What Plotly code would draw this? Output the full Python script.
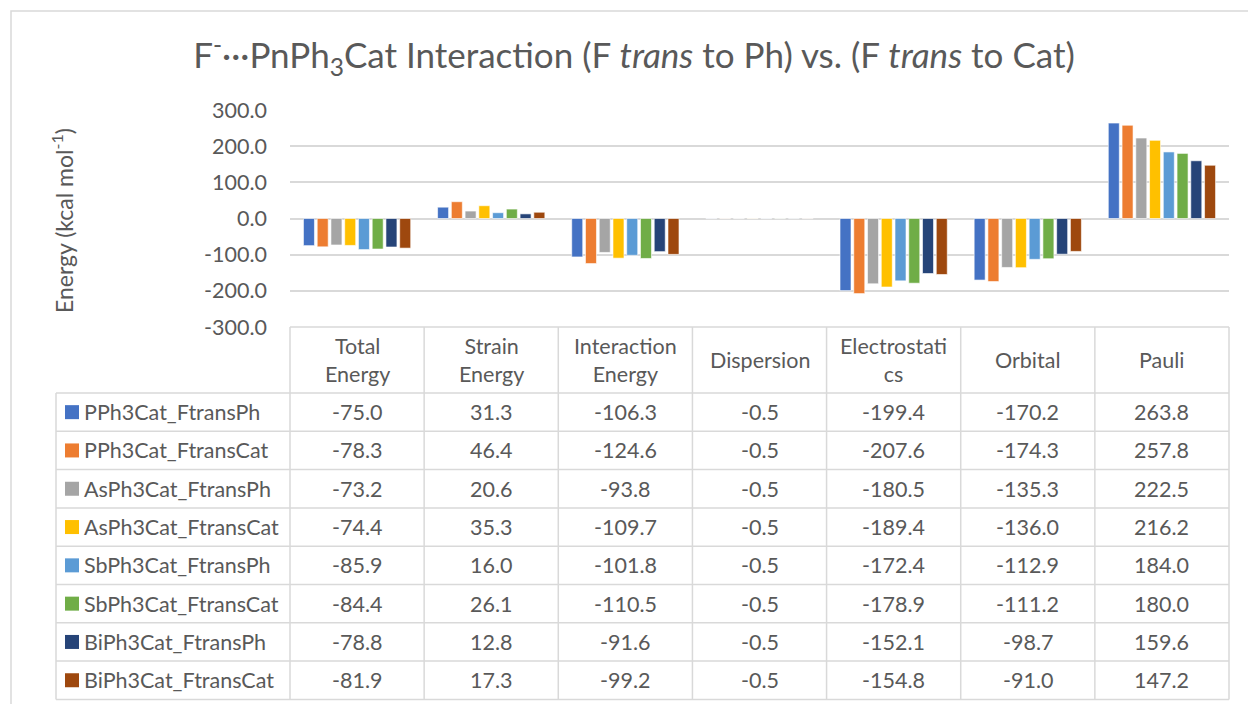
import plotly.graph_objects as go

# ── datos ─────────────────────────────────────────────
categorias = ["Total<br>Energy", "Strain<br>Energy", "Interaction<br>Energy",
              "Dispersion", "Electrostati<br>cs", "Orbital", "Pauli"]
series = ["PPh3Cat_FtransPh", "PPh3Cat_FtransCat", "AsPh3Cat_FtransPh",
          "AsPh3Cat_FtransCat", "SbPh3Cat_FtransPh", "SbPh3Cat_FtransCat",
          "BiPh3Cat_FtransPh", "BiPh3Cat_FtransCat"]
pph3_ph = [-75.0, 31.3, -106.3, -0.5, -199.4, -170.2, 263.8]
pph3_cat = [-78.3, 46.4, -124.6, -0.5, -207.6, -174.3, 257.8]
asph3_ph = [-73.2, 20.6, -93.8, -0.5, -180.5, -135.3, 222.5]
asph3_cat = [-74.4, 35.3, -109.7, -0.5, -189.4, -136.0, 216.2]
sbph3_ph = [-85.9, 16.0, -101.8, -0.5, -172.4, -112.9, 184.0]
sbph3_cat = [-84.4, 26.1, -110.5, -0.5, -178.9, -111.2, 180.0]
biph3_ph = [-78.8, 12.8, -91.6, -0.5, -152.1, -98.7, 159.6]
biph3_cat = [-81.9, 17.3, -99.2, -0.5, -154.8, -91.0, 147.2]
valores = [pph3_ph, pph3_cat, asph3_ph, asph3_cat,
           sbph3_ph, sbph3_cat, biph3_ph, biph3_cat]
ticks_y = [300, 200, 100, 0, -100, -200, -300]

COLORES = ["#4472C4", "#ED7D31", "#A5A5A5", "#FFC000",
           "#5B9BD5", "#70AD47", "#264478", "#9E480E"]
FUENTE = "Lato"
GRIS_TXT = "#595959"
GRIS_LIN = "#D9D9D9"
T_TABLA = 21.5

# el body se deja sin margen (ver post_script), la figura ocupa toda la ventana
W, H = 1248, 704
def px(x): return x / W
def py(y): return 1 - y / H

# geometría (px de la imagen de referencia)
X0, X1 = 290, 1229          # área de barras / tabla
Y_TOP, Y_BOT = 110, 327     # área de barras
HDR_BOT = 393               # fin de encabezado de tabla
FILA = 38.3                 # alto de fila
LEG_X = 56                  # borde izquierdo de leyenda

fig = go.Figure()
for nombre, vals, col in zip(series, valores, COLORES):
    fig.add_trace(go.Bar(
        name=nombre, x=list(range(len(categorias))), y=vals,
        marker=dict(color=col, line=dict(color="white", width=0.6)),
        hovertemplate=nombre + ": %{y:.1f}<extra></extra>",
    ))

shapes, annots = [], []
col_w = (X1 - X0) / len(categorias)
y_tabla_fin = HDR_BOT + FILA * len(series)

# borde exterior
shapes.append(dict(type="rect", xref="paper", yref="paper",
                   x0=px(11), x1=px(1262), y0=py(11), y1=py(720),
                   line=dict(color=GRIS_LIN, width=1.5)))

# líneas verticales de la tabla
for i in range(len(categorias) + 1):
    xx = X0 + i * col_w
    shapes.append(dict(type="line", xref="paper", yref="paper",
                       x0=px(xx), x1=px(xx), y0=py(Y_BOT), y1=py(y_tabla_fin),
                       line=dict(color=GRIS_LIN, width=1.5)))
shapes.append(dict(type="line", xref="paper", yref="paper",
                   x0=px(LEG_X), x1=px(LEG_X), y0=py(HDR_BOT), y1=py(y_tabla_fin),
                   line=dict(color=GRIS_LIN, width=1.5)))
# líneas horizontales
shapes.append(dict(type="line", xref="paper", yref="paper",
                   x0=px(X0), x1=px(X1), y0=py(Y_BOT), y1=py(Y_BOT),
                   line=dict(color=GRIS_LIN, width=1.5)))
for r in range(len(series) + 1):
    yy = HDR_BOT + r * FILA
    shapes.append(dict(type="line", xref="paper", yref="paper",
                       x0=px(LEG_X), x1=px(X1), y0=py(yy), y1=py(yy),
                       line=dict(color=GRIS_LIN, width=1.5)))

# encabezados
for i, cat in enumerate(categorias):
    annots.append(dict(xref="paper", yref="paper",
                       x=px(X0 + (i + 0.5) * col_w), y=py((Y_BOT + HDR_BOT) / 2),
                       text=cat, showarrow=False, xanchor="center", yanchor="middle",
                       font=dict(family=FUENTE, size=T_TABLA, color=GRIS_TXT)))

# filas: leyenda + valores
for r, (nombre, vals, col) in enumerate(zip(series, valores, COLORES)):
    yc = HDR_BOT + (r + 0.5) * FILA
    shapes.append(dict(type="rect", xref="paper", yref="paper",
                       x0=px(65), x1=px(79), y0=py(yc - 7), y1=py(yc + 7),
                       fillcolor=col, line=dict(width=0)))
    annots.append(dict(xref="paper", yref="paper", x=px(82), y=py(yc),
                       text=nombre, showarrow=False, xanchor="left", yanchor="middle",
                       font=dict(family=FUENTE, size=T_TABLA, color=GRIS_TXT)))
    for i, v in enumerate(vals):
        annots.append(dict(xref="paper", yref="paper",
                           x=px(X0 + (i + 0.5) * col_w), y=py(yc),
                           text=f"{v:.1f}", showarrow=False,
                           xanchor="center", yanchor="middle",
                           font=dict(family=FUENTE, size=T_TABLA, color=GRIS_TXT)))

# título eje Y
annots.append(dict(xref="paper", yref="paper", x=px(62), y=py(220),
                   text="Energy (kcal mol<sup>-1</sup>)", textangle=-90,
                   showarrow=False, xanchor="center", yanchor="middle",
                   font=dict(family=FUENTE, size=23, color=GRIS_TXT)))

fig.update_layout(
    width=W, height=H,
    margin=dict(l=0, r=0, t=0, b=0, autoexpand=False),
    paper_bgcolor="white", plot_bgcolor="white",
    title=dict(text="F<sup>-</sup>···PnPh<sub>3</sub>Cat Interaction "
                    "(F <i>trans</i> to Ph) vs. (F <i>trans</i> to Cat)",
               x=px(634), y=py(56), xanchor="center", yanchor="middle",
               automargin=False,
               font=dict(family=FUENTE, size=35, color=GRIS_TXT)),
    barmode="group", bargap=0.18, bargroupgap=0.2,
    showlegend=False,
    xaxis=dict(domain=[px(X0), px(X1)], range=[-0.5, len(categorias) - 0.5],
               showticklabels=False, showgrid=False, zeroline=False,
               automargin=False, fixedrange=True),
    yaxis=dict(domain=[py(Y_BOT), py(Y_TOP)], range=[-300, 300],
               tickvals=ticks_y, ticktext=[f"{v:.1f}" for v in ticks_y],
               showgrid=True, gridcolor=GRIS_LIN, gridwidth=1.5,
               zeroline=True, zerolinecolor=GRIS_LIN, zerolinewidth=1.5,
               ticks="", ticklen=0, ticklabelstandoff=22, automargin=False,
               tickfont=dict(family=FUENTE, size=T_TABLA, color=GRIS_TXT),
               fixedrange=True),
    shapes=shapes, annotations=annots,
)

fig.write_html("out.html", config={"displayModeBar": False},
               post_script="document.body.style.margin='0';"
                           "document.body.style.overflow='hidden';")
